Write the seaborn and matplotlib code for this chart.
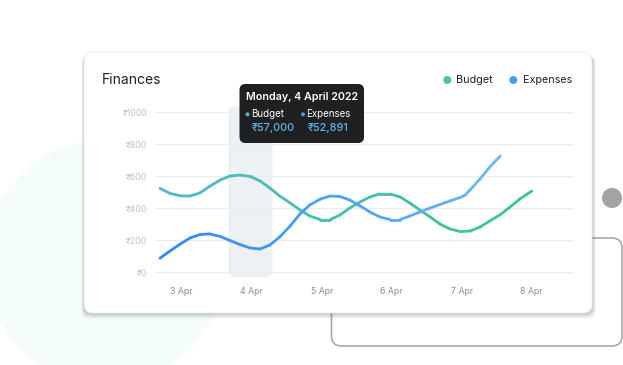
import numpy as np
import pandas as pd
import matplotlib
matplotlib.use("Agg")
import matplotlib.pyplot as plt
import matplotlib.colors as mcolors
from matplotlib.patches import FancyBboxPatch, Circle, Ellipse
import seaborn as sns

# days counted from 3 Apr (0 = 3 Apr, 1 = 4 Apr ...)
budget_day = [-0.31, -0.17, -0.02, 0.12, 0.26, 0.40, 0.55, 0.69, 0.83, 0.98,
              1.12, 1.26, 1.40, 1.55, 1.69, 1.83, 1.98, 2.12, 2.26, 2.40,
              2.55, 2.69, 2.83, 2.98, 3.12, 3.26, 3.40, 3.55, 3.69, 3.83,
              3.98, 4.12, 4.26, 4.40, 4.55, 4.69, 4.83, 5.00]
budget_val = [521, 490, 474, 473, 492, 534, 573, 598, 604, 595,
              567, 523, 473, 429, 386, 348, 326, 326, 354, 398,
              436, 467, 486, 486, 467, 429, 386, 342, 298, 267,
              251, 254, 279, 317, 356, 404, 454, 504]

expenses_day = [-0.31, -0.17, -0.02, 0.12, 0.26, 0.40, 0.55, 0.69, 0.83, 0.98,
                1.12, 1.26, 1.40, 1.55, 1.69, 1.83, 1.98, 2.12, 2.26, 2.40,
                2.55, 2.69, 2.83, 2.98, 3.12, 3.26, 3.40, 3.55, 3.69, 3.83,
                3.98, 4.05, 4.12, 4.26, 4.40, 4.55]
expenses_val = [84, 129, 173, 211, 232, 236, 220, 195, 170, 148,
                142, 167, 217, 286, 361, 417, 454, 473, 470, 448,
                411, 373, 342, 326, 326, 348, 373, 398, 420, 442,
                464, 479, 511, 579, 654, 723]

day_labels = ["3 Apr", "4 Apr", "5 Apr", "6 Apr", "7 Apr", "8 Apr"]
y_ticks = [0, 200, 400, 600, 800, 1000]
y_labels = ["₹0", "₹200", "₹400", "₹600", "₹800", "₹1000"]

tooltip_title = "Monday, 4 April 2022"
tooltip_budget = "₹57,000"
tooltip_expenses = "₹52,891"

sns.set_style("white")
plt.rcParams["font.family"] = ["Inter", "DejaVu Sans"]

W, H = 623, 365
fig = plt.figure(figsize=(W / 100, H / 100), dpi=100)

# background layer in pixel coordinates
bg = fig.add_axes([0, 0, 1, 1], zorder=0)
bg.set_xlim(0, W)
bg.set_ylim(H, 0)
bg.axis("off")


def rbox(ax, x0, y0, x1, y1, r, **kw):
    p = FancyBboxPatch((x0, y0), x1 - x0, y1 - y0,
                       boxstyle=f"round,pad=0,rounding_size={r}", **kw)
    ax.add_patch(p)
    return p


bg.add_patch(Ellipse((105, 262), 240, 245, color="#f4fcfc", lw=0))
rbox(bg, 331.5, 238, 622, 346, 10, fc="none", ec="#a9a9a9", lw=1.2)
bg.add_patch(Circle((612, 198), 10, color="#a3a3a3", lw=0))

# card shadow + card
for i, a in enumerate([0.05, 0.05, 0.05, 0.04, 0.03]):
    d = i + 1
    rbox(bg, 84 - d * 0.5, 52 + d * 0.8, 592 + d * 0.8, 313 + d * 1.2, 9,
         fc="#000000", alpha=a, lw=0)
rbox(bg, 84, 52, 592, 313, 9, fc="white", ec="#ececec", lw=0.6)

# hover band
rbox(bg, 228.5, 106.5, 272.5, 277, 5, fc="#edf1f4", lw=0)

bg.text(102, 80, "Finances", fontsize=10, color="#222222", va="center", ha="left")

bg.add_patch(Circle((447.3, 80), 4, color="#4cbfb4", lw=0))
bg.text(456, 80, "Budget", fontsize=7.8, color="#222222", va="center", ha="left")
bg.add_patch(Circle((513.3, 80), 4, color="#4a9cf2", lw=0))
bg.text(523, 80, "Expenses", fontsize=7.8, color="#222222", va="center", ha="left")

# main chart
L, R, T, B = 156, 574, 106, 278
ax = fig.add_axes([L / W, 1 - B / H, (R - L) / W, (B - T) / H], zorder=1)
ax.set_facecolor("none")


def seg_frame(xs, ys):
    rows = []
    for i in range(len(xs) - 1):
        rows.append((xs[i], ys[i], i))
        rows.append((xs[i + 1], ys[i + 1], i))
    return pd.DataFrame(rows, columns=["day", "value", "seg"])


def gradient(c0, c1, n):
    a = np.array(mcolors.to_rgb(c0))
    b = np.array(mcolors.to_rgb(c1))
    return {i: tuple(a + (b - a) * t) for i, t in enumerate(np.linspace(0, 1, n))}


df_b = seg_frame(budget_day, budget_val)
df_e = seg_frame(expenses_day, expenses_val)

sns.lineplot(data=df_b, x="day", y="value", hue="seg",
             palette=gradient("#50bac6", "#3cc68f", len(budget_day) - 1),
             estimator=None, sort=False, legend=False, linewidth=2.0,
             solid_capstyle="round", ax=ax)
sns.lineplot(data=df_e, x="day", y="value", hue="seg",
             palette=gradient("#3488f7", "#6cb9f0", len(expenses_day) - 1),
             estimator=None, sort=False, legend=False, linewidth=2.0,
             solid_capstyle="round", ax=ax)

ax.set_xlim(-0.367, 5.604)
ax.set_ylim(-39.4, 1035.6)
ax.set_xticks(range(len(day_labels)))
ax.set_xticklabels(day_labels)
ax.set_yticks(y_ticks)
ax.set_yticklabels(y_labels)
ax.set_xlabel("")
ax.set_ylabel("")
ax.tick_params(axis="x", length=0, pad=6.5, labelsize=6.3, labelcolor="#8c8c8c")
ax.tick_params(axis="y", length=0, pad=6.5, labelsize=6.3, labelcolor="#c4c4c4")
ax.yaxis.grid(True, color="#ececec", lw=0.8)
ax.xaxis.grid(False)
sns.despine(ax=ax, left=True, bottom=True)

# tooltip overlay
ov = fig.add_axes([0, 0, 1, 1], zorder=2)
ov.set_xlim(0, W)
ov.set_ylim(H, 0)
ov.axis("off")
ov.patch.set_alpha(0)
rbox(ov, 239.5, 84, 364, 143, 6, fc="#1f2022", lw=0)
ov.text(245.5, 96.5, tooltip_title, fontsize=7.7, color="white",
        fontweight="semibold", va="center", ha="left")
ov.add_patch(Circle((247.5, 114.3), 2, color="#4cbfb4", lw=0))
ov.text(251.5, 114.3, "Budget", fontsize=7, color="white", va="center", ha="left")
ov.add_patch(Circle((303, 114.3), 2, color="#4a9cf2", lw=0))
ov.text(306.5, 114.3, "Expenses", fontsize=7, color="white", va="center", ha="left")
ov.text(252, 128.3, tooltip_budget, fontsize=7.8, color="#62b6ea",
        fontweight="medium", va="center", ha="left")
ov.text(308, 128.3, tooltip_expenses, fontsize=7.8, color="#62b6ea",
        fontweight="medium", va="center", ha="left")

fig.savefig("out.png", dpi=100)
